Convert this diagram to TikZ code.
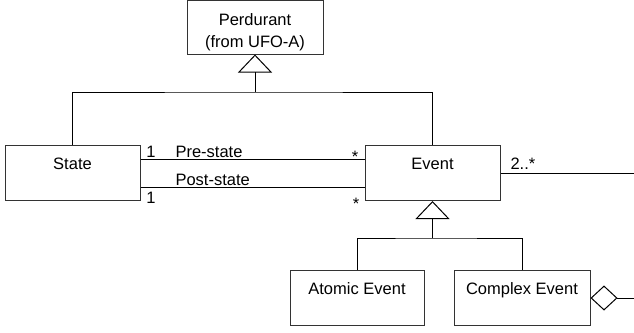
\documentclass[tikz,border=0pt]{standalone}
\usepackage{fontspec}
\setmainfont{Liberation Sans}
\usetikzlibrary{arrows.meta}

\begin{document}
\begin{tikzpicture}[x=1pt, y=-1pt, line width=1pt, font=\fontsize{16.5}{22}\selectfont,
  classbox/.style = {draw=black!80, minimum width=135pt, inner ysep=12pt, text height=12pt, text depth=19pt},
  gen/.style = {-{Triangle[open, length=18pt, width=34pt]}},
  agg/.style = {{Diamond[open, length=27pt, width=25pt]}-},
  mult/.style = {inner sep=0pt, anchor=base}]
\useasboundingbox (0,0) rectangle (634,332);
% classes
\node[draw=black!80, minimum width=136pt, minimum height=53.5pt] (perdurant) at (255,27.25) {};
\node[align=center, anchor=north, inner sep=0pt] (perdurant-text) at ([yshift=-13pt]perdurant.north) {Perdurant\\(from UFO-A)};
\node[classbox] (state) at (72.5,173) {State};
\node[classbox] (event) at (432.5,173) {Event};
\node[classbox, minimum width=134pt] (atomic) at (357,298) {Atomic Event};
\node[classbox, minimum width=136pt] (complex) at (522,298) {Complex Event};
% generalizations
\coordinate (top-join) at (255,92);
\draw[-] (state.north) |- (top-join) -| (event.north);
\draw[gen] (top-join) -- (perdurant.south);
\coordinate (sub-join) at (432.5,238);
\draw[-] (atomic.north) |- (sub-join) -| (complex.north);
\draw[gen] (sub-join) -- (event.south);
% associations
\draw[-] ([yshift=14pt]state.east) -- ([yshift=14pt]event.west);
\draw[-] ([yshift=-14pt]state.east) -- ([yshift=-14pt]event.west);
\coordinate (part-end) at (634,173);
\draw[-] (event.east) -- (part-end);
\coordinate (whole-end) at (634,298);
\draw[agg] (complex.east) -- (whole-end);
% labels
\node[mult] (pre-one) at (151,157) {1};
\node[mult, anchor=base west] (pre-name) at (175,157) {Pre-state};
\node[mult] (pre-many) at (355,162.5) {*};
\node[mult, anchor=base west] (post-name) at (175,185) {Post-state};
\node[mult] (post-one) at (151,203) {1};
\node[mult] (post-many) at (356,209.5) {*};
\node[mult, anchor=base west] (part-many) at (510,169) {2..*};
\end{tikzpicture}
\end{document}
